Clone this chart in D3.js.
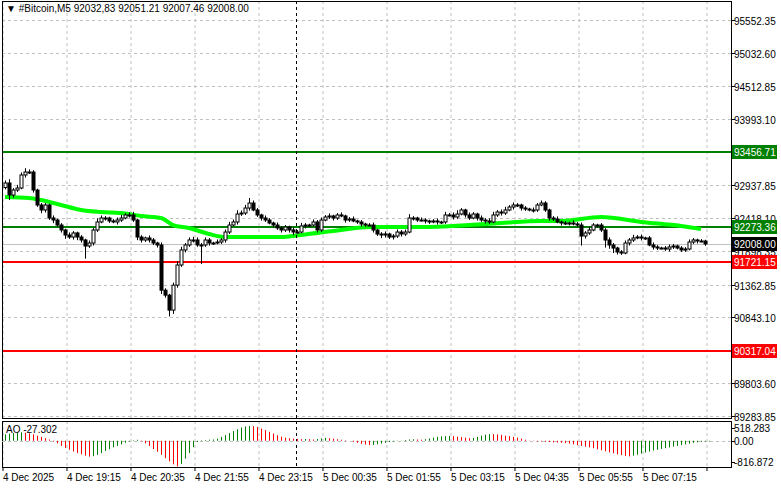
<!DOCTYPE html>
<html><head><meta charset="utf-8">
<script src="https://cdn.jsdelivr.net/npm/d3@7"></script>
<style>body{margin:0;background:#fff}svg{display:block;font-family:"Liberation Sans",Arial,sans-serif}</style>
</head><body><svg id="c" width="781" height="489"></svg>
<script>
const closes=[92972,92782,92861,92893,93099,93146,93146,92861,92624,92545,
92624,92418,92386,92307,92228,92149,92117,92181,92117,92070,
91975,92022,92228,92355,92418,92418,92371,92355,92386,92418,
92466,92466,92386,92117,92070,92102,92070,92022,91991,91276,
91197,90960,91355,91674,91912,91991,92070,92070,91991,91991,
92070,92022,92022,92038,92070,92196,92307,92355,92481,92497,
92576,92655,92545,92466,92418,92386,92339,92307,92260,92228,
92276,92228,92196,92196,92292,92307,92307,92355,92228,92386,
92434,92450,92418,92466,92450,92386,92402,92371,92355,92323,
92307,92307,92228,92165,92149,92165,92117,92133,92196,92165,
92196,92418,92418,92386,92386,92371,92355,92371,92355,92355,
92466,92466,92434,92481,92545,92466,92418,92481,92418,92386,
92371,92355,92466,92513,92497,92545,92592,92624,92624,92576,
92560,92545,92545,92624,92655,92545,92418,92402,92355,92339,
92339,92339,92323,92307,92133,92181,92228,92307,92307,92228,
92070,91991,91943,91880,91864,92022,92070,92102,92117,92102,
92102,91991,91959,91943,91943,91927,91959,91975,91943,91912,
91927,92038,92070,92054,92054,92008];
const firstOpen=92900;
const wickUp=[40,60,30,50,40,60,40,30,20,30,30,20,40,20,30,20,40,30,20,30,
20,40,30,60,40,30,20,30,40,50,30,40,50,20,30,20,40,30,20,40,
30,20,40,60,50,30,40,50,40,30,40,30,20,40,30,40,50,40,60,40,
50,80,40,30,20,40,30,20,40,30,30,20,40,30,50,30,20,40,30,40,
30,40,20,30,40,20,30,40,20,30,20,30,40,20,30,40,20,30,40,30,
40,60,30,20,40,30,20,30,40,20,50,30,40,60,30,20,40,30,20,40,
30,40,50,30,40,50,30,40,30,20,30,20,40,30,40,30,20,30,40,20,
30,20,40,30,40,30,50,30,20,30,30,40,30,20,30,40,30,50,30,40,
20,30,40,30,20,30,40,30,20,30,30,40,30,20,30,20];
const wickDn=[30,80,40,30,20,40,30,40,30,50,40,30,50,30,40,60,30,40,50,40,
200,30,40,30,20,40,30,20,40,30,20,40,30,50,40,30,40,30,40,60,
40,100,60,40,30,40,30,40,30,300,30,40,30,20,30,40,30,20,40,30,
30,40,20,30,40,30,20,40,30,40,30,40,50,30,20,40,30,20,40,30,
20,30,40,30,20,40,30,20,30,40,30,20,40,30,50,40,30,40,30,40,
30,20,40,30,20,40,30,20,40,30,30,20,40,30,20,40,30,20,40,30,
40,30,20,30,40,30,20,40,30,40,30,20,40,30,20,30,40,30,20,40,
30,40,20,30,150,40,30,20,40,30,120,60,80,40,30,20,40,30,20,40,
30,20,40,30,20,30,40,30,20,30,30,20,30,40,20,30];
const maIdx=[0,6,9,14,19,24,29,34,39,42,46,51,55,64,69,74,84,91,104,116,124,134,139,149,159,169,174];
const maVal=[92750,92735,92703,92624,92545,92513,92497,92450,92418,92307,92260,92165,92117,92117,92117,92149,92228,92276,92276,92307,92339,92371,92371,92434,92355,92292,92244];
const ao=[250,280,300,320,330,310,290,250,200,150,100,50,
-30,-100,-200,-280,-350,-420,-480,-530,-580,-620,-600,
-550,-480,-400,-330,-260,-200,-140,-80,-30,20,
40,-20,-100,
-200,-320,-430,-550,-680,-800,-920,-1000,-900,-700,-480,-250,
-50,20,30,40,50,
80,150,220,300,380,450,520,560,580,570,540,480,420,
350,280,220,160,120,100,80,70,60,
70,60,50,70,90,110,100,80,60,40,20,0,
-40,-80,-120,-150,-170,-160,-140,-110,-80,-50,-30,-10,10,
30,50,60,50,40,60,90,120,150,
170,180,190,180,160,140,120,100,110,
150,200,240,260,260,250,230,200,180,150,120,80,
40,10,-10,-20,-30,-40,-50,-60,-70,-80,-90,-110,
-140,-170,-200,-230,-260,-290,-330,-370,-410,-450,-490,-530,-560,-590,-610,
-580,-540,-500,-460,-420,-380,-350,-320,-290,-260,-230,-200,-170,-140,-110,-80,-60,-40,-30,-27.3];
const priceTicks=["95552.35","95032.60","94512.85","93993.10","92937.85","92418.10","91898.35","91362.85","90843.10","89803.60","89283.85"];
const timeLabels=["4 Dec 2025","4 Dec 19:15","4 Dec 20:35","4 Dec 21:55","4 Dec 23:15","5 Dec 00:35","5 Dec 01:55","5 Dec 03:15","5 Dec 04:35","5 Dec 05:55","5 Dec 07:15"];
const levels=[{p:93456.71,c:"#008000",t:"93456.71"},{p:92273.36,c:"#008000",t:"92273.36"},{p:91721.15,c:"#ff0000",t:"91721.15"},{p:90317.04,c:"#ff0000",t:"90317.04"}];
const bid=92008.00;
const aoTicks=[518.283,0,-816.872];

const svg=d3.select("#c");
const L=2,R=731,T=1,B=418,AT=421,AB=467;
const x=d3.scaleLinear().domain([0,1]).range([5,9]);
const y=d3.scaleLinear().domain([89283.85,95552.35]).range([416,20]);
const ya=d3.scaleLinear().domain([-816.872,518.283]).range([461.7,427.5]);
const dash="3,3";
// grids
[0,1,2,3,4,5,6,7,8,9,10,11].forEach(k=>{const gx=x(k*16)-2;
 svg.append("line").attr("x1",gx).attr("x2",gx).attr("y1",T).attr("y2",B).attr("stroke","#c0c0c0").attr("stroke-dasharray",dash);
 svg.append("line").attr("x1",gx).attr("x2",gx).attr("y1",AT).attr("y2",AB).attr("stroke","#c0c0c0").attr("stroke-dasharray",dash);
 svg.append("line").attr("x1",gx).attr("x2",gx).attr("y1",AB).attr("y2",AB+4).attr("stroke","#000");});
priceTicks.forEach(t=>{const py=Math.round(y(+t))+0.5;
 svg.append("line").attr("x1",L).attr("x2",R).attr("y1",py).attr("y2",py).attr("stroke","#c0c0c0").attr("stroke-dasharray",dash);
 svg.append("line").attr("x1",R).attr("x2",R+4).attr("y1",py).attr("y2",py).attr("stroke","#000");
 svg.append("text").attr("x",734).attr("y",py+4).attr("font-size",10).text(t);});
// bid line
svg.append("line").attr("x1",L).attr("x2",R).attr("y1",Math.round(y(bid))+0.5).attr("y2",Math.round(y(bid))+0.5).attr("stroke","#c0c0c0");
// levels
levels.forEach(l=>{const py=Math.round(y(l.p));
 svg.append("line").attr("x1",L).attr("x2",R).attr("y1",py).attr("y2",py).attr("stroke",l.c).attr("stroke-width",2);});
// MA
svg.append("path").datum(maIdx.map((d,i)=>[d,maVal[i]])).attr("fill","none").attr("stroke","#00ff00").attr("stroke-width",4)
 .attr("d",d3.line().x(d=>x(d[0])).y(d=>y(d[1])).curve(d3.curveMonotoneX));
// candles
closes.forEach((c,i)=>{const o=i?closes[i-1]:firstOpen;const hi=Math.max(o,c)+wickUp[i],lo=Math.min(o,c)-wickDn[i];
 const cx=Math.round(x(i))+0.5;
 svg.append("line").attr("x1",cx).attr("x2",cx).attr("y1",y(hi)).attr("y2",y(lo)).attr("stroke","#000");
 const top=y(Math.max(o,c)),bot=y(Math.min(o,c));
 svg.append("rect").attr("x",cx-1.5).attr("y",top).attr("width",3).attr("height",Math.max(1,bot-top))
  .attr("fill",c>=o?"#fff":"#000").attr("stroke","#000").attr("stroke-width",1);});
// dashed crosshair
svg.append("line").attr("x1",296.5).attr("x2",296.5).attr("y1",T).attr("y2",AB).attr("stroke","#000").attr("stroke-dasharray",dash);
// level labels
levels.concat([{p:bid,c:"#000",t:"92008.00"}]).forEach(l=>{const py=Math.round(y(l.p));
 svg.append("rect").attr("x",732).attr("y",py-7).attr("width",45).attr("height",14).attr("fill",l.c);
 svg.append("text").attr("x",734).attr("y",py+4).attr("font-size",10).attr("fill","#fff").text(l.t);});
// frames
svg.append("rect").attr("x",L+0.5).attr("y",T+0.5).attr("width",R-L).attr("height",B-T).attr("fill","none").attr("stroke","#000");
svg.append("rect").attr("x",L+0.5).attr("y",AT+0.5).attr("width",R-L).attr("height",AB-AT).attr("fill","none").attr("stroke","#000");
// title
svg.append("text").attr("x",6).attr("y",12).attr("font-size",10).text("▼ #Bitcoin,M5  92032,83 92051.21 92007.46 92008.00");
// AO
svg.append("line").attr("x1",L).attr("x2",R).attr("y1",Math.round(ya(0))+0.5).attr("y2",Math.round(ya(0))+0.5).attr("stroke","#c0c0c0").attr("stroke-dasharray",dash);
ao.forEach((v,i)=>{const cx=Math.round(x(i))+0.5;
 svg.append("line").attr("x1",cx).attr("x2",cx).attr("y1",ya(0)).attr("y2",ya(v)).attr("stroke",(i===0||v>ao[i-1])?"#008000":"#ff0000");});
svg.append("text").attr("x",6).attr("y",433).attr("font-size",10).text("AO -27.302");
aoTicks.forEach(t=>{const py=Math.round(ya(t));
 svg.append("line").attr("x1",R).attr("x2",R+4).attr("y1",py+0.5).attr("y2",py+0.5).attr("stroke","#000");
 svg.append("text").attr("x",734).attr("y",py+4).attr("font-size",10).text(t===0?"0.00":t.toFixed(3));});
// time labels
timeLabels.forEach((t,k)=>{svg.append("text").attr("x",x(k*16)-2).attr("y",481).attr("font-size",10).text(t);});
</script></body></html>
